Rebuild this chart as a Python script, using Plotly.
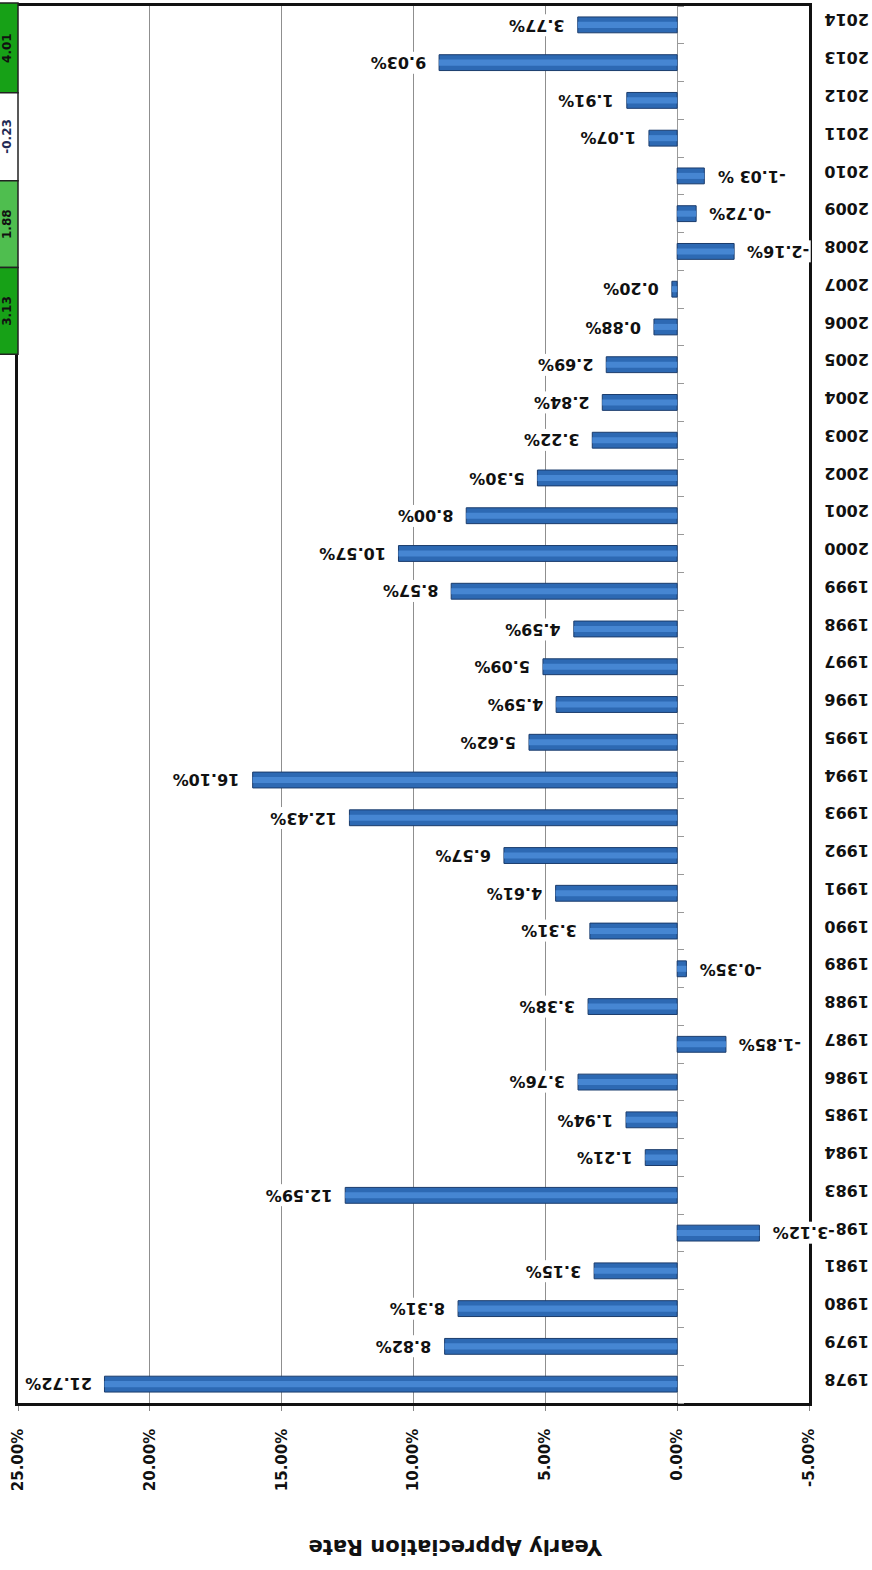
import plotly.graph_objects as go

# ---------------- data ----------------
years = [str(y) for y in range(1978, 2015)]
rates = [21.72, 8.82, 8.31, 3.15, -3.12, 12.59, 1.21, 1.94, 3.76, -1.85,
         3.38, -0.35, 3.31, 4.61, 6.57, 12.43, 16.10, 5.62, 4.59, 5.09,
         3.92, 8.57, 10.57, 8.00, 5.30, 3.22, 2.84, 2.69, 0.88, 0.20,
         -2.16, -0.72, -1.03, 1.07, 1.91, 9.03, 3.77]
rate_labels = ["21.72%", "8.82%", "8.31%", "3.15%", "-3.12%", "12.59%", "1.21%", "1.94%", "3.76%", "-1.85%",
               "3.38%", "-0.35%", "3.31%", "4.61%", "6.57%", "12.43%", "16.10%", "5.62%", "4.59%", "5.09%",
               "4.59%", "8.57%", "10.57%", "8.00%", "5.30%", "3.22%", "2.84%", "2.69%", "0.88%", "0.20%",
               "-2.16%", "-0.72%", "-1.03 %", "1.07%", "1.91%", "9.03%", "3.77%"]
x_tick_vals = [-5, 0, 5, 10, 15, 20, 25]
x_tick_text = [f"{v:.2f}%" for v in x_tick_vals]
x_range = [25, -5]
axis_title = "Yearly Appreciation Rate"

side_values = ["4.01", "-0.23", "1.88", "3.13"]
side_colors = ["#17a117", "#ffffff", "#4fbe4f", "#17a117"]
side_text_colors = ["#111111", "#1f2a55", "#111111", "#111111"]
side_edges_px = [0, 90, 178, 265, 352]

# ---------------- layout helpers ----------------
WIDTH, HEIGHT = 872, 1570
L, R, T, B = 18, 63, 3, 167
W = WIDTH - L - R
H = HEIGHT - T - B


def px(x):
    return (x - L) / W


def py(y):
    return 1 - (y - T) / H


FONT = "DejaVu Sans"
bold = dict(family=FONT, weight="bold", color="#111111")

fig = go.Figure()

# main bars
fig.add_trace(go.Bar(
    x=rates, y=years, orientation="h", width=0.42,
    marker=dict(color="#2d69b3", line=dict(color="#1b3c6c", width=1)),
    hoverinfo="skip", yaxis="y",
))
# highlight stripe to mimic the glossy gradient
fig.add_trace(go.Bar(
    x=rates, y=years, orientation="h", width=0.16,
    marker=dict(color="#4686d2", line=dict(width=0)),
    hoverinfo="skip", yaxis="y2",
))

annotations = []
for i, (v, lab) in enumerate(zip(rates, rate_labels)):
    annotations.append(dict(
        x=v, y=i, xref="x", yref="y", text=lab, showarrow=False,
        xanchor="right" if v >= 0 else "left",
        xshift=-11 if v >= 0 else 11,
        textangle=180, bgcolor="white", borderpad=1,
        font=dict(size=16, **bold),
    ))

annotations.append(dict(
    x=px(456), y=py(1548), xref="paper", yref="paper", text=axis_title,
    showarrow=False, textangle=180, xanchor="center", yanchor="middle",
    font=dict(size=21, **bold),
))

shapes = []
for i, (val, col, tcol) in enumerate(zip(side_values, side_colors, side_text_colors)):
    y0, y1 = side_edges_px[i], side_edges_px[i + 1]
    shapes.append(dict(
        type="rect", xref="paper", yref="paper",
        x0=px(-2), x1=px(L), y0=py(y1), y1=py(y0),
        fillcolor=col, line=dict(color="#222222", width=1.5), layer="above",
    ))
    annotations.append(dict(
        x=px(7), y=py((y0 + y1) / 2), xref="paper", yref="paper", text=val,
        showarrow=False, textangle=-90, xanchor="center", yanchor="middle",
        font=dict(size=12, family=FONT, weight="bold", color=tcol),
    ))

zero_pos = (x_range[0] - 0) / (x_range[0] - x_range[1])

fig.update_layout(
    width=WIDTH, height=HEIGHT,
    margin=dict(l=L, r=R, t=T, b=B, pad=0),
    paper_bgcolor="white", plot_bgcolor="white",
    barmode="overlay", bargap=0.58, showlegend=False,
    xaxis=dict(
        range=x_range, tickvals=x_tick_vals, ticktext=x_tick_text,
        tickangle=-90, tickfont=dict(size=15, **bold),
        showgrid=True, gridcolor="#8f8f8f", gridwidth=1.2,
        zeroline=True, zerolinecolor="#9a9a9a", zerolinewidth=1.2,
        showline=True, linecolor="#111111", linewidth=2.5, mirror=True,
        ticks="outside", ticklen=5, tickcolor="#888888", ticklabelstandoff=12,
    ),
    yaxis=dict(
        type="category", categoryorder="array", categoryarray=years,
        range=[-0.5, len(years) - 0.5], side="right",
        tickangle=180, tickfont=dict(size=16, **bold),
        showline=True, linecolor="#111111", linewidth=2.5, mirror=True,
        ticks="", showgrid=False, ticklabelstandoff=54,
    ),
    yaxis2=dict(
        type="category", categoryorder="array", categoryarray=years,
        range=[-0.5, len(years) - 0.5], overlaying="y", anchor="free",
        position=zero_pos, side="right", showticklabels=False,
        ticks="outside", tickson="boundaries", ticklen=6, tickcolor="#999999",
        showline=False, showgrid=False,
    ),
    annotations=annotations, shapes=shapes,
)

fig.write_html("out.html")
